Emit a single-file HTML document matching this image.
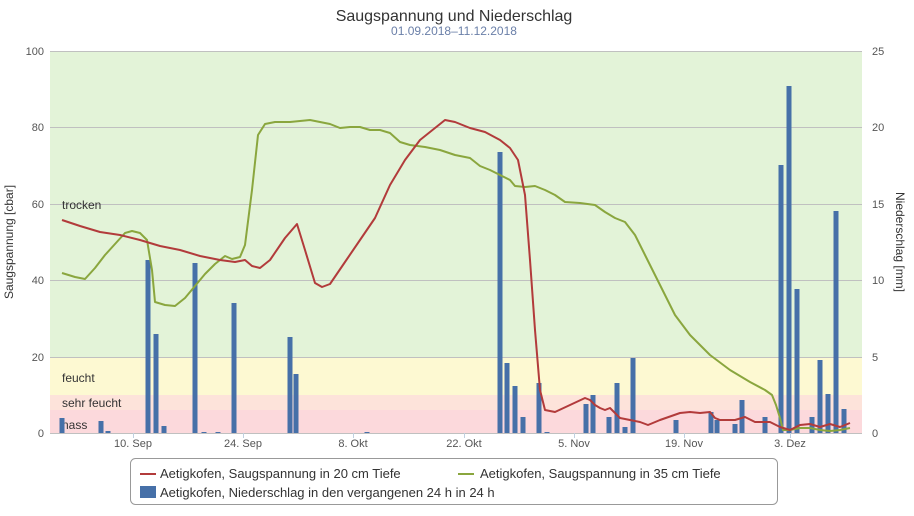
<!DOCTYPE html>
<html><head><meta charset="utf-8"><style>
body{margin:0;background:#fff;font-family:"Liberation Sans",sans-serif}
svg text{font-family:"Liberation Sans",sans-serif}
</style></head><body>
<svg width="914" height="511" xmlns="http://www.w3.org/2000/svg">
<rect width="914" height="511" fill="#fff"/>
<text x="454" y="21" text-anchor="middle" font-size="16" fill="#333">Saugspannung und Niederschlag</text>
<text x="454" y="35" text-anchor="middle" font-size="12" fill="#6a7fa8">01.09.2018–11.12.2018</text>
<rect x="50" y="51" width="812" height="306" fill="#e3f3d8"/>
<rect x="50" y="357" width="812" height="38" fill="#fdf9d2"/>
<rect x="50" y="395" width="812" height="15" fill="#fde3da"/>
<rect x="50" y="410" width="812" height="23" fill="#fcd9dc"/>
<g stroke="#c0c0c0" stroke-width="1">
<line x1="50" x2="862" y1="51.5" y2="51.5"/><line x1="50" x2="862" y1="127.5" y2="127.5"/>
<line x1="50" x2="862" y1="204.5" y2="204.5"/><line x1="50" x2="862" y1="280.5" y2="280.5"/>
<line x1="50" x2="862" y1="357.5" y2="357.5"/><line x1="50" x2="862" y1="433.5" y2="433.5"/>
</g>
<g stroke="#c0d0e0"><line x1="133.5" x2="133.5" y1="433" y2="438"/><line x1="243.5" x2="243.5" y1="433" y2="438"/><line x1="353.5" x2="353.5" y1="433" y2="438"/><line x1="464.5" x2="464.5" y1="433" y2="438"/><line x1="574.5" x2="574.5" y1="433" y2="438"/><line x1="684.5" x2="684.5" y1="433" y2="438"/><line x1="790.5" x2="790.5" y1="433" y2="438"/></g>
<g font-size="12" fill="#333">
<text x="62" y="209">trocken</text><text x="62" y="382">feucht</text><text x="62" y="407">sehr feucht</text><text x="62" y="429">nass</text>
</g>
<g font-size="11" fill="#555" text-anchor="end">
<text x="44" y="55">100</text><text x="44" y="131">80</text><text x="44" y="208">60</text><text x="44" y="284">40</text><text x="44" y="361">20</text><text x="44" y="437">0</text>
</g>
<g font-size="11" fill="#555">
<text x="872" y="55">25</text><text x="872" y="131">20</text><text x="872" y="208">15</text><text x="872" y="284">10</text><text x="872" y="361">5</text><text x="872" y="437">0</text>
</g>
<g font-size="11" fill="#555" text-anchor="middle">
<text x="133" y="447">10. Sep</text><text x="243" y="447">24. Sep</text><text x="353" y="447">8. Okt</text><text x="464" y="447">22. Okt</text><text x="574" y="447">5. Nov</text><text x="684" y="447">19. Nov</text><text x="790" y="447">3. Dez</text>
</g>
<text transform="translate(13,242) rotate(-90)" text-anchor="middle" font-size="12" fill="#333">Saugspannung [cbar]</text>
<text transform="translate(896,242) rotate(90)" text-anchor="middle" font-size="12" fill="#333">Niederschlag [mm]</text>
<g fill="#4670a8">
<rect x="59.5" y="418" width="5" height="15"/><rect x="98.5" y="421" width="5" height="12"/><rect x="105.5" y="431" width="5" height="2"/>
<rect x="145.5" y="260" width="5" height="173"/><rect x="153.5" y="334" width="5" height="99"/><rect x="161.5" y="426" width="5" height="7"/>
<rect x="192.5" y="263" width="5" height="170"/><rect x="201.5" y="432" width="5" height="1"/><rect x="215.5" y="432" width="5" height="1"/>
<rect x="231.5" y="303" width="5" height="130"/><rect x="287.5" y="337" width="5" height="96"/><rect x="293.5" y="374" width="5" height="59"/>
<rect x="364.5" y="432" width="5" height="1"/><rect x="497.5" y="152" width="5" height="281"/><rect x="504.5" y="363" width="5" height="70"/>
<rect x="512.5" y="386" width="5" height="47"/><rect x="520.5" y="417" width="5" height="16"/><rect x="536.5" y="383" width="5" height="50"/>
<rect x="544.5" y="432" width="5" height="1"/><rect x="583.5" y="404" width="5" height="29"/><rect x="590.5" y="395" width="5" height="38"/>
<rect x="606.5" y="417" width="5" height="16"/><rect x="614.5" y="383" width="5" height="50"/><rect x="622.5" y="427" width="5" height="6"/>
<rect x="630.5" y="358" width="5" height="75"/><rect x="673.5" y="420" width="5" height="13"/><rect x="708.5" y="412" width="5" height="21"/>
<rect x="714.5" y="420" width="5" height="13"/><rect x="732.5" y="424" width="5" height="9"/><rect x="739.5" y="400" width="5" height="33"/>
<rect x="762.5" y="417" width="5" height="16"/><rect x="778.5" y="165" width="5" height="268"/><rect x="786.5" y="86" width="5" height="347"/>
<rect x="794.5" y="289" width="5" height="144"/><rect x="809.5" y="417" width="5" height="16"/><rect x="817.5" y="360" width="5" height="73"/>
<rect x="825.5" y="394" width="5" height="39"/><rect x="833.5" y="211" width="5" height="222"/><rect x="841.5" y="409" width="5" height="24"/>
</g>
<polyline fill="none" stroke="#8aa63e" stroke-width="2" stroke-linejoin="round" points="62,273 75,277 85,279 95,268 105,255 115,244 125,233 132,231 140,233 147,240 152,270 155,302 165,305 175,306 185,298 195,286 205,274 215,264 225,256 232,259 240,257 245,245 252,190 258,135 265,124 275,122 290,122 300,121 310,120 320,122 330,124 340,128 350,127 360,127 370,130 380,130 390,133 400,142 410,145 425,147 440,150 455,155 470,158 480,166 490,170 500,175 510,180 515,186 525,187 535,186 545,190 555,195 565,202 580,203 595,205 605,212 615,218 625,222 635,235 645,255 660,285 675,315 690,335 710,355 730,370 750,382 765,390 772,395 776,405 780,418 783,430 790,430 800,428 810,428 820,430 830,431 840,430 850,428"/>
<polyline fill="none" stroke="#b23b3b" stroke-width="2" stroke-linejoin="round" points="62,220 80,226 100,232 120,235 140,240 160,246 180,250 200,256 220,260 235,262 245,260 252,266 260,268 270,260 285,238 297,224 305,250 315,283 322,287 330,284 345,262 360,240 375,218 390,185 405,160 420,140 435,128 445,120 455,122 470,128 485,132 500,140 510,148 518,160 525,195 530,260 535,330 540,390 545,410 555,412 570,405 585,398 590,400 595,405 600,408 605,410 610,408 615,413 620,418 630,420 640,422 648,425 660,420 680,413 690,412 700,413 710,412 715,418 720,420 735,420 745,417 755,422 770,422 780,427 790,430 800,425 810,424 820,427 830,424 840,427 850,423"/>
<rect x="130.5" y="458.5" width="647" height="46" rx="5" fill="#fff" stroke="#999"/>
<line x1="140" x2="156" y1="474" y2="474" stroke="#b23b3b" stroke-width="2"/>
<text x="160" y="478" font-size="13" fill="#333">Aetigkofen, Saugspannung in 20 cm Tiefe</text>
<line x1="458" x2="474" y1="474" y2="474" stroke="#8aa63e" stroke-width="2"/>
<text x="480" y="478" font-size="13" fill="#333">Aetigkofen, Saugspannung in 35 cm Tiefe</text>
<rect x="140" y="486" width="16" height="12" fill="#4670a8"/>
<text x="160" y="497" font-size="13" fill="#333">Aetigkofen, Niederschlag in den vergangenen 24 h in 24 h</text>
</svg>
</body></html>
